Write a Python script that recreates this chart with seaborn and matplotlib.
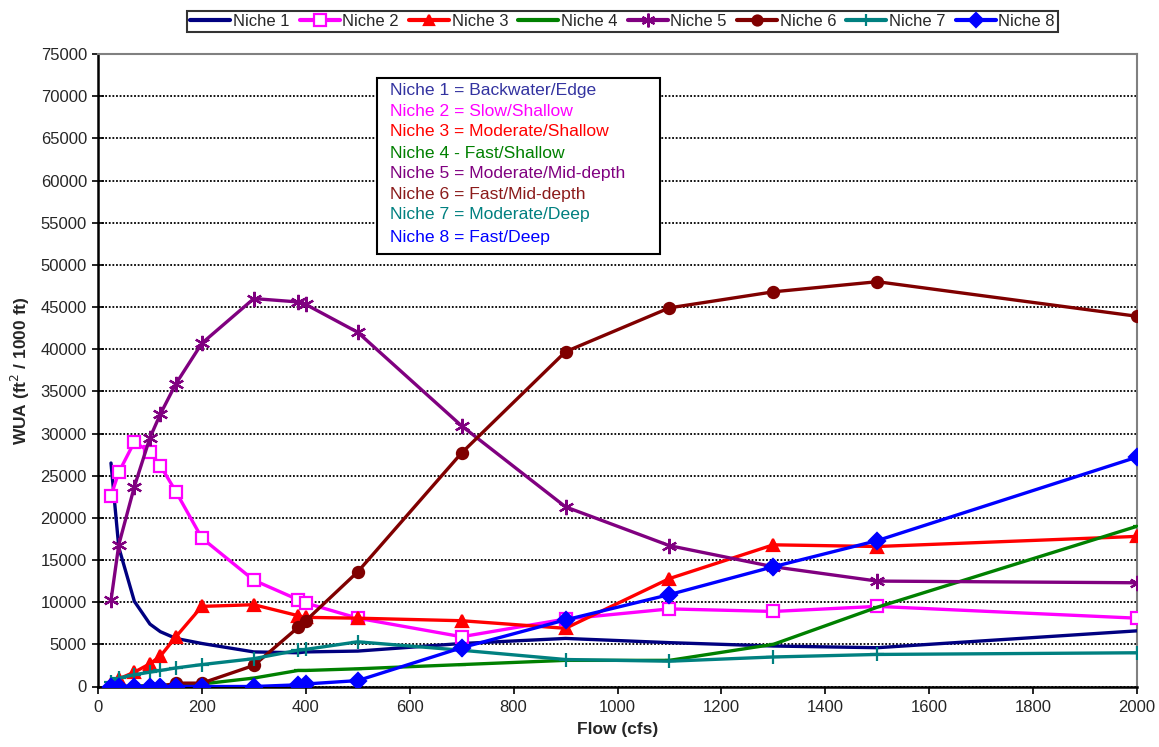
import matplotlib
matplotlib.use("Agg")
import matplotlib.pyplot as plt
import seaborn as sns
import pandas as pd
from matplotlib.lines import Line2D
from matplotlib.patches import Rectangle

# Flow levels (cfs) at which habitat area was computed
flow = [25, 40, 70, 100, 120, 150, 200, 300, 385, 400, 500, 700, 900, 1100, 1300, 1500, 2000]

# Weighted usable area (ft^2 / 1000 ft) per habitat niche
niche1 = [26500, 16500, 10100, 7400, 6500, 5700, 5100, 4100, 4000, 4100, 4200, 5100, 5700, 5200, 4800, 4600, 6600]
niche2 = [22600, 25400, 29000, 27800, 26200, 23100, 17600, 12600, 10300, 9900, 8100, 5900, 8000, 9200, 8900, 9500, 8100]
niche3 = [300, 900, 1700, 2700, 3600, 5900, 9500, 9700, 8400, 8200, 8100, 7800, 6900, 12800, 16800, 16600, 17800]
niche4 = [0, 0, 50, 100, 150, 200, 300, 1000, 1900, 1900, 2100, 2600, 3100, 3100, 5000, 9400, 19000]
niche5 = [10200, 16800, 23700, 29500, 32300, 35900, 40700, 46000, 45600, 45300, 42000, 30900, 21300, 16700, 14200, 12500, 12300]
niche6 = [0, 0, 0, 0, 0, 400, 400, 2500, 7000, 7800, 13600, 27700, 39700, 44900, 46800, 48000, 43900]
niche7 = [500, 1000, 1400, 1700, 1900, 2200, 2600, 3300, 4300, 4400, 5300, 4300, 3200, 3000, 3500, 3800, 4000]
niche8 = [0, 0, 0, 0, 0, 0, 0, 0, 200, 300, 700, 4600, 7900, 10900, 14200, 17300, 27200]

series_names = ["Niche 1", "Niche 2", "Niche 3", "Niche 4", "Niche 5", "Niche 6", "Niche 7", "Niche 8"]
series_values = [niche1, niche2, niche3, niche4, niche5, niche6, niche7, niche8]

niche_descriptions = [
    "Niche 1 = Backwater/Edge",
    "Niche 2 = Slow/Shallow",
    "Niche 3 = Moderate/Shallow",
    "Niche 4 - Fast/Shallow",
    "Niche 5 = Moderate/Mid-depth",
    "Niche 6 = Fast/Mid-depth",
    "Niche 7 = Moderate/Deep",
    "Niche 8 = Fast/Deep",
]

x_ticks = list(range(0, 2001, 200))
y_ticks = list(range(0, 75001, 5000))

# Line / marker styling per niche
colors = ["#000080", "#FF00FF", "#FF0000", "#008000", "#800080", "#800000", "#008080", "#0000FF"]
text_colors = ["#3333A0", "#FF00FF", "#FF0000", "#008000", "#800080", "#8B1A1A", "#008080", "#0000FF"]
markers = [None, "s", "^", "_", (6, 2, 0), "o", "+", "D"]
marker_sizes = [0, 9, 8, 6, 11, 8, 10, 8]
face_colors = [None, "white", None, None, None, None, None, None]

sns.set_theme(style="white")
plt.rcParams["font.family"] = ["Liberation Sans", "DejaVu Sans"]

W, H = 1159, 747
fig = plt.figure(figsize=(W / 100, H / 100), dpi=100)
ax = fig.add_axes([98 / W, (H - 686.5) / H, 1039 / W, 632.5 / H])

df = pd.DataFrame({"flow": flow})
for name, vals in zip(series_names, series_values):
    df[name] = vals

for i, name in enumerate(series_names):
    kw = dict(linewidth=2.4, color=colors[i])
    if markers[i] is not None:
        kw.update(marker=markers[i], markersize=marker_sizes[i],
                  markeredgecolor=colors[i], markeredgewidth=1.6,
                  markerfacecolor=face_colors[i] if face_colors[i] else colors[i])
    sns.lineplot(data=df, x="flow", y=name, ax=ax, estimator=None, sort=False,
                 zorder=3 + i, **kw)

ax.set_xlim(0, 2000)
ax.set_ylim(0, 75000)
ax.set_xticks(x_ticks)
ax.set_yticks(y_ticks)
ax.set_xticklabels([str(v) for v in x_ticks], fontsize=12)
ax.set_yticklabels([str(v) for v in y_ticks], fontsize=12)
ax.tick_params(axis="y", direction="inout", length=8, width=1.2, color="black", pad=4, left=True)
ax.tick_params(axis="x", direction="out", length=5, width=1.2, color="black", pad=5, bottom=True)

ax.yaxis.grid(True, color="black", linestyle=(0, (1, 1)), linewidth=1.3)
ax.xaxis.grid(False)
ax.set_axisbelow(True)

for side in ["left", "bottom"]:
    ax.spines[side].set_color("black")
    ax.spines[side].set_linewidth(1.8)
for side in ["top", "right"]:
    ax.spines[side].set_color("#808080")
    ax.spines[side].set_linewidth(1.5)

ax.set_xlabel("Flow (cfs)", fontsize=12.5, fontweight="bold", labelpad=5)
ax.set_ylabel("WUA (ft$^{2}$ / 1000 ft)", fontsize=12.5, fontweight="bold", labelpad=6)

# Legend across the top
handles = []
for i, name in enumerate(series_names):
    h = Line2D([], [], color=colors[i], linewidth=3,
               marker=markers[i] if markers[i] is not None else None,
               markersize=marker_sizes[i] * 0.9 if markers[i] is not None else 0,
               markeredgecolor=colors[i], markeredgewidth=1.6,
               markerfacecolor=face_colors[i] if face_colors[i] else colors[i])
    handles.append(h)
leg = fig.legend(handles, series_names, loc="center", bbox_to_anchor=(622.5 / W, 1 - 21 / H),
                 ncol=8, frameon=True, fancybox=False, edgecolor="black",
                 handlelength=2.4, handletextpad=0.15, columnspacing=0.62,
                 borderpad=0.18, borderaxespad=0,
                 prop={"family": ["Liberation Sans"], "size": 12})
leg.get_frame().set_linewidth(1.5)

# Description box
fig.add_artist(Rectangle((377 / W, 1 - 253.5 / H), (659.5 - 377) / W, (253.5 - 78) / H,
                         transform=fig.transFigure, facecolor="white", edgecolor="black",
                         linewidth=1.5, zorder=20))
line_y = [91, 111, 131, 153.5, 173.5, 194, 215, 237.5]
for txt, c, yy in zip(niche_descriptions, text_colors, line_y):
    fig.text(389.5 / W, 1 - yy / H, txt, color=c, fontsize=12.6, va="center", ha="left", zorder=21)

fig.savefig("out.png", dpi=100)
